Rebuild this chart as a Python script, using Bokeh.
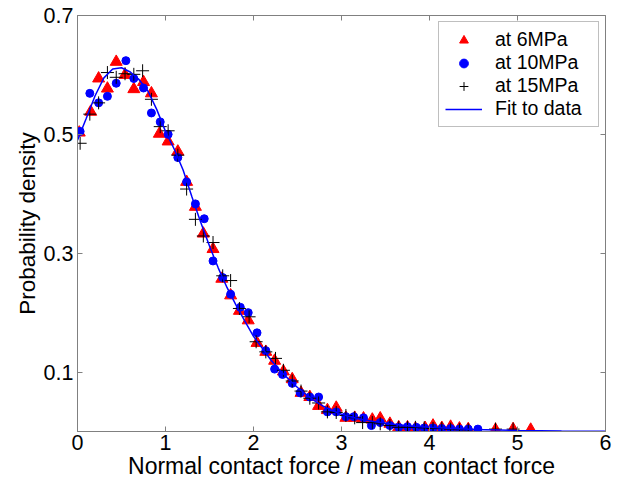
from bokeh.plotting import figure
from bokeh.models import LinearAxis, FixedTicker, Range1d, Legend, LegendItem
from bokeh.embed import file_html
from bokeh.resources import INLINE

# ---- data ----
x_6mpa = [0.02, 0.15, 0.24, 0.34, 0.44, 0.54, 0.64, 0.75, 0.84, 0.93, 1.03, 1.14, 1.24, 1.34, 1.43,
          1.54, 1.64, 1.74, 1.84, 1.94, 2.04, 2.14, 2.24, 2.34, 2.44, 2.54, 2.64, 2.74, 2.84, 2.94,
          3.05, 3.15, 3.25, 3.35, 3.44, 3.55, 3.65, 3.75, 3.84, 3.95, 4.04, 4.14, 4.24, 4.34, 4.44,
          4.75, 4.95, 5.15]
y_6mpa = [0.503, 0.538, 0.594, 0.577, 0.622, 0.600, 0.576, 0.588, 0.569, 0.501, 0.488, 0.471, 0.420,
          0.378, 0.333, 0.307, 0.257, 0.229, 0.203, 0.187, 0.149, 0.134, 0.119, 0.101, 0.088, 0.065,
          0.058, 0.043, 0.036, 0.040, 0.023, 0.023, 0.022, 0.020, 0.022, 0.013, 0.007, 0.007, 0.005,
          0.006, 0.010, 0.006, 0.008, 0.005, 0.004, 0.003, 0.004, 0.003]

x_10mpa = [0.03, 0.14, 0.24, 0.34, 0.44, 0.55, 0.64, 0.75, 0.84, 0.94, 1.03, 1.14, 1.24, 1.34, 1.44,
           1.54, 1.65, 1.74, 1.85, 1.94, 2.04, 2.14, 2.24, 2.33, 2.44, 2.53, 2.64, 2.74, 2.84, 2.94,
           3.05, 3.14, 3.25, 3.34, 3.44, 3.55, 3.65, 3.75, 3.85, 3.94, 4.04, 4.14, 4.24, 4.34, 4.44,
           4.55]
y_10mpa = [0.505, 0.569, 0.553, 0.564, 0.586, 0.624, 0.594, 0.578, 0.536, 0.521, 0.500, 0.461, 0.420,
           0.383, 0.358, 0.287, 0.259, 0.231, 0.209, 0.200, 0.166, 0.136, 0.105, 0.096, 0.081, 0.065,
           0.058, 0.058, 0.033, 0.033, 0.025, 0.025, 0.023, 0.010, 0.015, 0.010, 0.007, 0.008, 0.007,
           0.006, 0.006, 0.005, 0.005, 0.004, 0.004, 0.004]

x_15mpa = [0.03, 0.14, 0.24, 0.34, 0.44, 0.54, 0.64, 0.74, 0.84, 0.94, 1.03, 1.14, 1.24, 1.34, 1.43,
           1.54, 1.65, 1.74, 1.84, 1.95, 2.03, 2.14, 2.25, 2.34, 2.44, 2.54, 2.64, 2.74, 2.84, 2.94,
           3.05, 3.15, 3.24, 3.35, 3.44, 3.55, 3.65, 3.75, 3.84, 3.94, 4.04, 4.14, 4.24, 4.34, 4.44,
           4.75, 4.95]
y_15mpa = [0.485, 0.534, 0.553, 0.604, 0.596, 0.602, 0.601, 0.607, 0.559, 0.513, 0.506, 0.465, 0.408,
           0.357, 0.329, 0.318, 0.262, 0.254, 0.207, 0.193, 0.151, 0.134, 0.123, 0.103, 0.085, 0.068,
           0.056, 0.048, 0.033, 0.032, 0.027, 0.023, 0.015, 0.015, 0.013, 0.010, 0.007, 0.007, 0.007,
           0.006, 0.005, 0.005, 0.004, 0.003, 0.003, 0.004, 0.004]

x_fit = [0.0, 0.1, 0.2, 0.3, 0.4, 0.5, 0.6, 0.7, 0.8, 0.9, 1.0, 1.1, 1.2, 1.3, 1.4, 1.5, 1.6, 1.7,
         1.8, 1.9, 2.0, 2.1, 2.2, 2.3, 2.4, 2.5, 2.6, 2.7, 2.8, 2.9, 3.0, 3.2, 3.4, 3.6, 3.8, 4.0,
         4.25, 4.5, 5.0, 5.5, 6.0]
y_fit = [0.490, 0.527, 0.565, 0.595, 0.610, 0.612, 0.605, 0.592, 0.573, 0.542, 0.505, 0.475, 0.440,
         0.395, 0.352, 0.312, 0.275, 0.242, 0.213, 0.186, 0.160, 0.140, 0.120, 0.103, 0.088, 0.074,
         0.062, 0.051, 0.042, 0.035, 0.029, 0.021, 0.016, 0.012, 0.009, 0.007, 0.005, 0.0035,
         0.0018, 0.0009, 0.0005]

x_ticks = [0, 1, 2, 3, 4, 5, 6]
y_ticks = [0.1, 0.3, 0.5, 0.7]
labels = ["at 6MPa", "at 10MPa", "at 15MPa", "Fit to data"]

FONT = "Liberation Sans"
GRAY = "#808080"
RED = "#ff0000"
BLUE = "#0000ff"

p = figure(width=622, height=483, output_backend="svg", toolbar_location=None,
           x_range=Range1d(0, 6), y_range=Range1d(0, 0.7),
           min_border_left=77, min_border_right=17, min_border_top=15, min_border_bottom=52,
           x_axis_label="Normal contact force / mean contact force",
           y_axis_label="Probability density")
p.grid.visible = False
p.outline_line_color = GRAY
p.outline_line_width = 1
p.background_fill_color = "white"
p.border_fill_color = "white"

for ax in (p.xaxis[0], p.yaxis[0]):
    ax.axis_line_color = GRAY
    ax.major_tick_line_color = GRAY
    ax.major_tick_in = 5
    ax.major_tick_out = 0
    ax.minor_tick_line_color = None
    ax.major_label_text_font = FONT
    ax.major_label_text_font_size = "21.5px"
    ax.major_label_text_color = "black"
    ax.axis_label_text_font = FONT
    ax.axis_label_text_font_style = "normal"
    ax.axis_label_text_color = "black"

p.xaxis[0].axis_label_text_font_size = "23px"
p.yaxis[0].axis_label_text_font_size = "22.5px"
p.xaxis[0].major_label_standoff = 3
p.xaxis[0].axis_label_standoff = 0
p.yaxis[0].major_label_standoff = 4
p.yaxis[0].axis_label_standoff = 1

p.xaxis[0].ticker = FixedTicker(ticks=x_ticks)
p.yaxis[0].ticker = FixedTicker(ticks=y_ticks)

top_ax = LinearAxis(ticker=FixedTicker(ticks=x_ticks))
right_ax = LinearAxis(ticker=FixedTicker(ticks=y_ticks))
for ax in (top_ax, right_ax):
    ax.axis_line_color = None
    ax.major_tick_line_color = GRAY
    ax.major_tick_in = 5
    ax.major_tick_out = 0
    ax.minor_tick_line_color = None
    ax.major_label_text_font_size = "1px"
    ax.major_label_text_color = None
    ax.major_label_standoff = 0
p.add_layout(top_ax, "above")
p.add_layout(right_ax, "right")

r6 = p.scatter(x_6mpa, y_6mpa, marker="triangle", size=12, fill_color=RED, line_color=RED)
r10 = p.scatter(x_10mpa, y_10mpa, marker="circle", size=8, fill_color=BLUE, line_color=BLUE)
r15 = p.scatter(x_15mpa, y_15mpa, marker="cross", size=13, line_color="black", line_width=1)
rfit = p.line(x_fit, y_fit, line_color=BLUE, line_width=1.5)

legend = Legend(items=[LegendItem(label=labels[0], renderers=[r6]),
                       LegendItem(label=labels[1], renderers=[r10]),
                       LegendItem(label=labels[2], renderers=[r15]),
                       LegendItem(label=labels[3], renderers=[rfit])],
                location="top_right")
legend.label_text_font = FONT
legend.label_text_font_size = "19.5px"
legend.label_text_color = "black"
legend.border_line_color = GRAY
legend.border_line_width = 1
legend.glyph_width = 37
legend.glyph_height = 22
legend.label_height = 22
legend.label_width = 97
legend.spacing = 0
legend.padding = 6
legend.margin = 6
legend.label_standoff = 13
legend.click_policy = "none"
p.add_layout(legend)

open("out.html", "w").write(file_html(p, INLINE))
